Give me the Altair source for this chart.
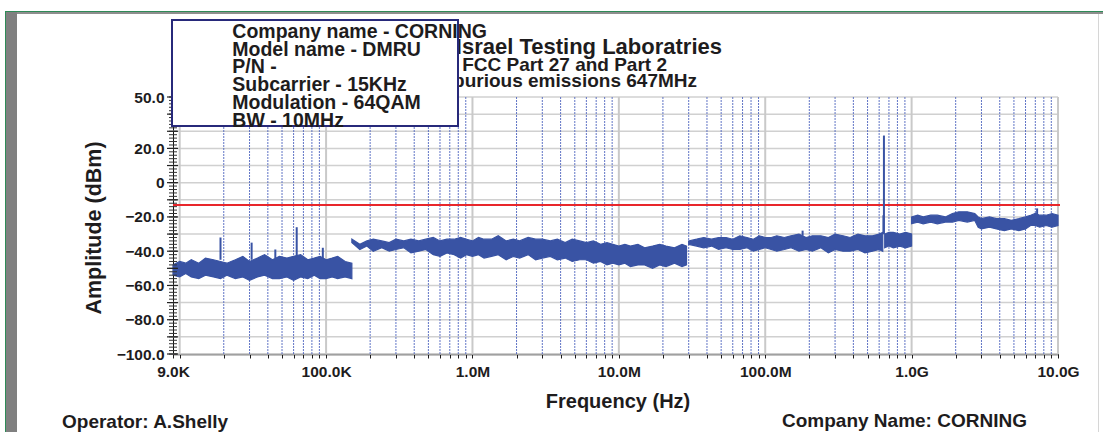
import altair as alt
import pandas as pd

# ---------------- data ----------------
# Measured spectrum, drawn as min/max envelope per sweep segment (Hz, dBm)
seg_a_freq = [9.0e3, 1.0e4, 1.1e4, 1.2e4, 1.35e4, 1.5e4, 1.7e4, 1.9e4, 2.1e4, 2.4e4, 2.7e4,
              3.0e4, 3.4e4, 3.8e4, 4.3e4, 4.8e4, 5.4e4, 6.0e4, 6.7e4, 7.5e4, 8.3e4, 9.1e4,
              1.0e5, 1.1e5, 1.2e5, 1.35e5, 1.5e5]
seg_a_low = [-54, -55, -53, -55, -56, -54, -55, -56, -54, -56, -55,
             -57, -55, -54, -56, -56, -55, -57, -55, -56, -54, -56,
             -56, -55, -56, -55, -56]
seg_a_high = [-48, -46, -47, -45, -47, -44, -45, -46, -47, -45, -43,
              -46, -44, -42, -45, -43, -44, -43, -42, -45, -44, -43,
              -45, -44, -43, -46, -47]

seg_b_freq = [1.5e5, 1.7e5, 1.9e5, 2.1e5, 2.4e5, 2.7e5, 3.0e5, 3.4e5, 3.8e5, 4.3e5, 4.8e5,
              5.4e5, 6.0e5, 6.7e5, 7.5e5, 8.3e5, 9.1e5,
              1.0e6, 1.1e6, 1.2e6, 1.35e6, 1.5e6, 1.7e6, 1.9e6, 2.1e6, 2.4e6, 2.7e6, 3.0e6,
              3.4e6, 3.8e6, 4.3e6, 4.8e6, 5.4e6, 6.0e6, 6.7e6, 7.5e6, 8.3e6, 9.1e6,
              1.0e7, 1.1e7, 1.2e7, 1.35e7, 1.5e7, 1.7e7, 1.9e7, 2.1e7, 2.4e7, 2.7e7, 2.9e7]
seg_b_low = [-35, -39, -37, -40, -38, -40, -39, -38, -41, -40, -39,
             -42, -43, -41, -42, -44, -42,
             -43, -42, -44, -43, -42, -45, -43, -44, -42, -45, -44,
             -43, -45, -44, -46, -45, -45, -47, -46, -48, -47,
             -48, -47, -49, -48, -48, -50, -48, -49, -47, -49, -48]
seg_b_high = [-33, -36, -34, -33, -34, -35, -33, -34, -33, -34, -33,
              -32, -34, -33, -33, -32, -33,
              -34, -32, -33, -33, -31, -34, -33, -34, -32, -33, -33,
              -34, -33, -35, -33, -34, -35, -34, -36, -35, -36,
              -37, -36, -37, -36, -38, -37, -36, -37, -38, -36, -37]

seg_c_freq = [3.0e7, 3.4e7, 3.8e7, 4.3e7, 4.8e7, 5.4e7, 6.0e7, 6.7e7, 7.5e7, 8.3e7, 9.1e7,
              1.0e8, 1.1e8, 1.2e8, 1.35e8, 1.5e8, 1.7e8, 1.9e8, 2.1e8, 2.4e8, 2.7e8, 3.0e8,
              3.4e8, 3.8e8, 4.3e8, 4.8e8, 5.4e8, 6.0e8, 6.35e8]
seg_c_low = [-36, -37, -38, -37, -39, -38, -39, -39, -38, -40, -39,
             -38, -39, -40, -39, -38, -40, -39, -40, -38, -41, -39,
             -40, -40, -39, -41, -40, -39, -40]
seg_c_high = [-34, -33, -32, -33, -32, -32, -33, -31, -32, -33, -31,
              -32, -32, -31, -32, -31, -30, -32, -31, -31, -32, -30,
              -31, -32, -30, -31, -31, -30, -29]

seg_c2_freq = [6.55e8, 7.0e8, 7.5e8, 8.3e8, 9.1e8, 1.0e9]
seg_c2_low = [-38, -37, -38, -37, -38, -37]
seg_c2_high = [-30, -29, -29, -30, -29, -30]

seg_d_freq = [1.0e9, 1.1e9, 1.2e9, 1.35e9, 1.5e9, 1.7e9, 1.9e9, 2.1e9, 2.4e9, 2.7e9, 2.85e9,
              3.0e9, 3.4e9, 3.8e9, 4.3e9, 4.8e9, 5.4e9, 6.0e9, 6.5e9, 7.0e9, 7.5e9, 8.3e9,
              9.1e9, 1.0e10]
seg_d_low = [-24, -23, -24, -23, -24, -23, -23, -22, -23, -22, -26,
             -27, -26, -27, -28, -27, -28, -27, -25, -25, -26, -25,
             -26, -25]
seg_d_high = [-20, -19, -20, -19, -19, -20, -18, -17, -17, -18, -20,
              -21, -20, -21, -21, -22, -21, -20, -19, -18, -19, -19,
              -18, -19]

# Narrow spurs rising above the noise band
spur_freq = [1.9e4, 3.1e4, 4.5e4, 6.3e4, 9.5e4, 1.8e8, 6.42e8, 6.47e8, 7.2e9]
spur_base = [-45, -45, -44, -43, -44, -31, -30, -30, -19]
spur_peak = [-32, -35, -39, -26, -38, -28, -19, 27.5, -15]

limit_dbm = -13

title_lines = ["Israel Testing Laboratries", "FCC Part 27 and Part 2", "Spurious emissions 647MHz"]
info_lines = ["Company name - CORNING", "Model name - DMRU", "P/N -",
              "Subcarrier - 15KHz", "Modulation - 64QAM", "BW - 10MHz"]
x_title = "Frequency (Hz)"
y_title = "Amplitude (dBm)"
operator_text = "Operator: A.Shelly"
company_text = "Company  Name: CORNING"

x_tick_labels = {9000: "9.0K", 100000: "100.0K", 1000000: "1.0M", 10000000: "10.0M",
                 100000000: "100.0M", 1000000000: "1.0G", 10000000000: "10.0G"}
y_label_values = [50, 20, 0, -20, -40, -60, -80, -100]

# ---------------- layout ----------------
W, H = 885, 257
FONT = "Liberation Sans"
INK = "#1e1c1d"
TRACE = "#3953a4"

x_scale = alt.Scale(type="log", domain=[9000, 1e10], nice=False)
y_scale = alt.Scale(domain=[-100, 50], nice=False)

decades = [10 ** k for k in range(4, 11)]
minors = [m * 10 ** k for k in range(4, 10) for m in range(2, 10)]
x_ticks = sorted([9000] + decades + minors)

one = pd.DataFrame({"k": [0]})

label_map = "{" + ", ".join(f"'{k}': '{v}'" for k, v in x_tick_labels.items()) + "}"
x_axis = alt.Axis(values=x_ticks, labelExpr=f"{label_map}[toString(datum.value)] || ''",
                  tickSize=4, tickColor=INK, tickWidth=1, domainColor="#111", domainWidth=1.5,
                  labelFont=FONT, labelFontSize=15.5, labelFontWeight="bold", labelColor=INK,
                  labelPadding=6, labelOverlap=False, labelFlush=False, labelBound=False,
                  grid=False, title=None)
y_axis = alt.Axis(values=list(range(-100, 51, 10)),
                  labelExpr=f"indexof({y_label_values}, datum.value) >= 0 ? "
                            "(datum.value == 0 ? '0' : format(datum.value, '.1f')) : ''",
                  ticks=False, tickSize=0, domainColor="#111", domainWidth=1,
                  labelFont=FONT, labelFontSize=15.5, labelFontWeight="bold", labelColor=INK,
                  labelPadding=9, labelOverlap=False, grid=False, title=None)


def X(field):
    return alt.X(field, scale=x_scale, axis=x_axis)


def Y(field):
    return alt.Y(field, scale=y_scale, axis=y_axis, stack=None)


def text_at(txt, x, y, size, align="left", angle=0, baseline="alphabetic"):
    return alt.Chart(one).mark_text(
        text=txt, font=FONT, fontSize=size, fontWeight="bold", color=INK,
        align=align, baseline=baseline, angle=angle
    ).encode(x=alt.value(x), y=alt.value(y))


def box(x, x2, y, y2, color):
    return alt.Chart(one).mark_rect(color=color).encode(
        x=alt.value(x), x2=alt.value(x2), y=alt.value(y), y2=alt.value(y2))


# Window frame
frame = [
    box(-168, 930, -86, -85, "#2e8b57"),
    box(-168, 930, -85, -83, "#8e8e8e"),
    box(-168, -167, -86, 335, "#2e8b57"),
    box(-167, -156, -85, 335, "#808080"),
    box(925, 926, -83, 335, "#d6d6d6"),
]

grid_h = alt.Chart(pd.DataFrame({"v": list(range(-100, 51, 10))})).mark_rule(
    color="#d0d0d0", strokeWidth=1.5).encode(
    y=Y("v:Q"), x=alt.value(0), x2=alt.value(W))

grid_minor = alt.Chart(pd.DataFrame({"f": minors})).mark_rule(
    color="#5066c0", strokeWidth=1, strokeDash=[2, 1], opacity=0.9).encode(
    x=X("f:Q"), y=alt.value(0), y2=alt.value(H))

grid_major = alt.Chart(pd.DataFrame({"f": decades})).mark_rule(
    color="#c9c9c9", strokeWidth=2).encode(
    x=X("f:Q"), y=alt.value(0), y2=alt.value(H))

ytick_minor = alt.Chart(pd.DataFrame({"v": list(range(-100, 51, 2))})).mark_rule(
    color="#333", strokeWidth=1).encode(
    y=Y("v:Q"), x=alt.value(-4), x2=alt.value(4))
ytick_major = alt.Chart(pd.DataFrame({"v": list(range(-100, 51, 10))})).mark_rule(
    color="#222", strokeWidth=1.2).encode(
    y=Y("v:Q"), x=alt.value(-6), x2=alt.value(5))

limit = alt.Chart(pd.DataFrame({"v": [limit_dbm]})).mark_rule(
    color="#e8262b", strokeWidth=2).encode(
    y=Y("v:Q"), x=alt.value(0), x2=alt.value(W + 2))

segments = [(seg_a_freq, seg_a_low, seg_a_high),
            (seg_b_freq, seg_b_low, seg_b_high),
            (seg_c_freq, seg_c_low, seg_c_high),
            (seg_c2_freq, seg_c2_low, seg_c2_high),
            (seg_d_freq, seg_d_low, seg_d_high)]
traces = [
    alt.Chart(pd.DataFrame({"f": f, "lo": lo, "hi": hi})).mark_area(
        color=TRACE, opacity=1, stroke=TRACE, strokeWidth=1.2, orient="vertical"
    ).encode(x=X("f:Q"), y=Y("lo:Q"), y2="hi:Q")
    for f, lo, hi in segments
]

spurs = alt.Chart(pd.DataFrame({"f": spur_freq, "b": spur_base, "p": spur_peak})).mark_rule(
    color=TRACE, strokeWidth=2).encode(x=X("f:Q"), y=Y("b:Q"), y2="p:Q")

# Header lines (partly covered by the info box)
title_ends = [549, 494, 524]
title_base = [-43, -26.3, -9.7]
title_size = [22, 19, 19]
titles = [text_at(t, x, y, s, align="right")
          for t, x, y, s in zip(title_lines, title_ends, title_base, title_size)]

info_box = alt.Chart(one).mark_rect(fill="white", stroke="#27297a", strokeWidth=2).encode(
    x=alt.value(-1), x2=alt.value(285), y=alt.value(-77), y2=alt.value(29))
info = [text_at(t, 59.3, -59.3 + i * 17.8, 19.5) for i, t in enumerate(info_lines)]

labels = [
    text_at(y_title, -78, 131, 21.5, align="center", angle=270, baseline="middle"),
    text_at(x_title, 445, 311, 20, align="center"),
    text_at(operator_text, -111, 330.5, 19),
    text_at(company_text, 609, 330, 19),
]

chart = alt.layer(
    *frame, grid_h, grid_major, grid_minor, limit, *traces, spurs, ytick_minor, ytick_major,
    *titles, info_box, *info, *labels
).properties(
    width=W, height=H,
    padding={"left": 173, "top": 97, "right": 45, "bottom": 78},
    autosize=alt.AutoSizeParams(type="none"),
    background="white",
).configure_view(stroke=None)

chart.save("out.html", embed_options={"renderer": "svg", "actions": False})
